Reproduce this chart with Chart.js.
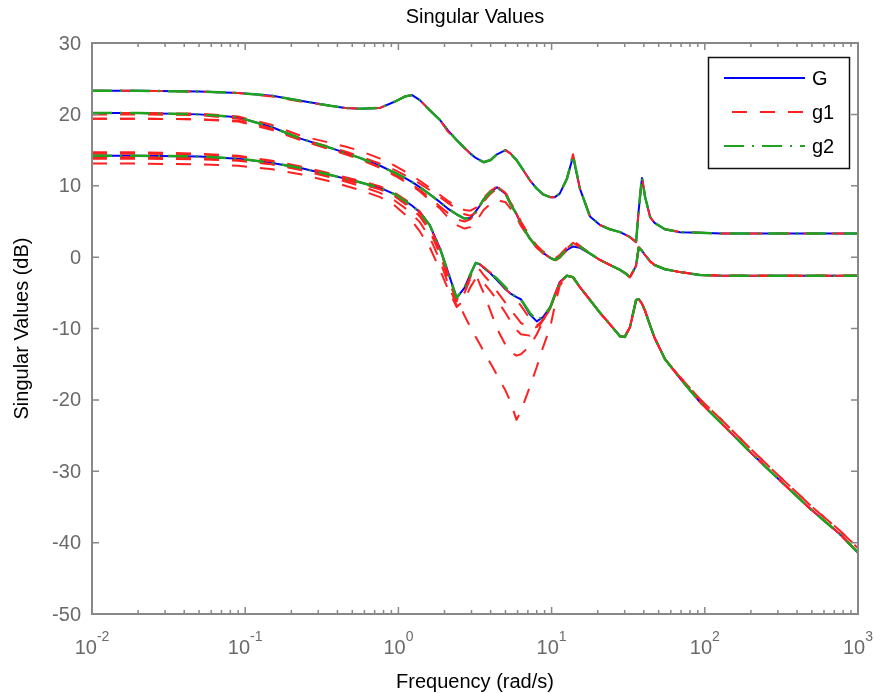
<!DOCTYPE html>
<html>
<head>
<meta charset="UTF-8">
<title>Singular Values</title>
<script src="https://cdn.jsdelivr.net/npm/chart.js"></script>
<style>
  body { margin: 0; background: #fff; }
  canvas { display: block; }
</style>
</head>
<body>
<canvas id="sigmaChart" width="880" height="693"></canvas>
<script>
// frequency grid (rad/s)
const freq = [0.01, 0.02, 0.05, 0.09, 0.15, 0.23, 0.36, 0.45, 0.56, 0.76, 0.95, 1.1, 1.23, 1.38, 1.6, 1.87, 2.1, 2.4, 2.7, 2.95,
  3.2, 3.4, 3.6, 4.0, 4.4, 5.0, 5.4, 5.9, 6.3, 7.2, 8.0, 8.8, 9.8, 10.5, 11.3, 12.6, 13.8, 15.3, 17.8, 20.7,
  24, 28, 30, 32.5, 35.6, 37, 38.9, 40.7, 44, 47, 55, 69, 93, 130, 200, 310, 490, 760, 1000];

// G: the three singular values (dB)
const gSv1 = [23.3, 23.3, 23.2, 23.0, 22.6, 21.9, 21.2, 20.9, 20.8, 20.9, 21.8, 22.5, 22.7, 22.0, 20.6, 19.2, 17.8, 16.4, 15.3, 14.5,
  13.9, 13.6, 13.3, 13.6, 14.4, 15.0, 14.5, 13.6, 12.7, 10.8, 9.6, 8.8, 8.4, 8.4, 8.9, 11.0, 14.1, 9.6, 5.7, 4.5,
  3.9, 3.5, 3.2, 2.8, 2.1, 6.5, 11.1, 8.5, 5.6, 4.8, 3.9, 3.5, 3.4, 3.3, 3.3, 3.3, 3.3, 3.3, 3.3];
const gSv2 = [20.2, 20.2, 20.0, 19.6, 18.2, 16.6, 15.3, 14.6, 13.9, 12.8, 11.8, 11.1, 10.5, 9.8, 8.8, 7.7, 6.8, 6.0, 5.4, 5.5,
  6.4, 7.2, 8.1, 9.1, 9.8, 8.9, 7.4, 6.0, 4.7, 2.6, 1.4, 0.6, -0.1, -0.4, 0.0, 1.0, 1.5, 1.3, 0.5, -0.4,
  -1.1, -1.8, -2.2, -2.8, -1.2, 1.3, 0.9, 0.3, -0.6, -1.1, -1.7, -2.1, -2.5, -2.6, -2.6, -2.6, -2.6, -2.6, -2.6];
const gSv3 = [14.2, 14.2, 14.1, 13.8, 13.2, 12.5, 11.5, 11.0, 10.5, 9.7, 8.8, 7.9, 7.2, 6.3, 4.5, 1.2, -2.0, -5.7, -4.3, -2.4,
  -0.8, -1.0, -1.5, -2.3, -3.2, -4.5, -5.1, -5.6, -5.9, -8.0, -9.0, -8.4, -7.0, -5.3, -3.5, -2.6, -2.8, -4.2, -6.0, -7.8,
  -9.4, -11.1, -11.2, -9.8, -6.0, -5.9, -6.5, -7.5, -9.6, -11.3, -14.3, -17.0, -20.3, -23.4, -27.4, -31.3, -35.3, -38.8, -41.4];

// g2: singular values (dB)
const g2Sv1 = [23.3, 23.3, 23.2, 23.0, 22.6, 21.9, 21.2, 20.9, 20.8, 20.9, 21.8, 22.5, 22.7, 22.0, 20.6, 19.2, 17.8, 16.4, 15.3, 14.5,
  13.9, 13.6, 13.3, 13.6, 14.4, 15.0, 14.5, 13.6, 12.7, 10.8, 9.6, 8.8, 8.4, 8.4, 8.9, 11.0, 14.3, 9.6, 5.7, 4.5,
  3.9, 3.5, 3.2, 2.8, 2.1, 6.5, 11.2, 8.5, 5.6, 4.8, 3.9, 3.5, 3.4, 3.3, 3.3, 3.3, 3.3, 3.3, 3.3];
const g2Sv2 = [20.2, 20.2, 20.0, 19.6, 18.2, 16.6, 15.3, 14.6, 13.9, 12.8, 11.8, 11.1, 10.5, 9.8, 8.8, 7.7, 6.8, 6.0, 5.4, 5.5,
  6.4, 7.2, 8.1, 9.1, 9.8, 8.9, 7.4, 6.0, 4.7, 2.6, 1.4, 0.6, -0.1, -0.4, 0.0, 1.2, 1.9, 1.5, 0.5, -0.4,
  -1.1, -1.8, -2.2, -2.8, -1.2, 1.3, 0.9, 0.3, -0.6, -1.1, -1.7, -2.1, -2.5, -2.6, -2.6, -2.6, -2.6, -2.6, -2.6];
const g2Sv3 = [14.2, 14.2, 14.1, 13.8, 13.2, 12.5, 11.5, 11.0, 10.5, 9.7, 8.8, 7.9, 7.2, 6.3, 4.5, 1.2, -2.0, -5.7, -4.3, -2.4,
  -0.8, -1.0, -1.5, -2.3, -3.0, -4.2, -5.1, -5.6, -5.9, -7.8, -8.8, -8.4, -7.0, -5.3, -3.5, -2.6, -2.8, -4.2, -6.0, -7.8,
  -9.4, -11.1, -11.2, -9.8, -6.0, -5.9, -6.5, -7.5, -9.6, -11.3, -14.3, -17.0, -20.3, -23.4, -27.4, -31.3, -35.3, -38.8, -41.4];

// g1: sampled responses, largest singular value
const g1Top = [23.3, 23.3, 23.2, 23.0, 22.5, 21.8, 21.2, 20.9, 20.8, 20.9, 21.8, 22.5, 22.7, 22.0, 20.6, 19.2, 17.6, 16.4, 15.3, 14.5,
  13.9, 13.6, 13.3, 13.6, 14.4, 15.0, 14.5, 13.6, 12.7, 10.8, 9.6, 8.8, 8.4, 8.4, 8.9, 11.0, 14.4, 9.6, 5.7, 4.5,
  3.9, 3.5, 3.2, 2.8, 2.1, 6.5, 11.4, 8.5, 5.6, 4.8, 3.9, 3.5, 3.4, 3.3, 3.3, 3.3, 3.3, 3.3, 3.3];

// g1: middle singular value of each sample
const g1MidA = [20.2, 20.2, 20.1, 19.7, 18.5, 17.0, 16.0, 15.5, 14.9, 13.8, 12.8, 12.0, 11.4, 10.7, 9.7, 8.7, 7.9, 7.1, 6.6, 6.5,
  6.9, 7.5, 8.3, 9.3, 9.9, 9.1, 7.6, 6.2, 4.9, 2.8, 1.6, 0.8, 0.1, -0.2, 0.3, 1.4, 2.3, 1.6, 0.5, -0.4,
  -1.1, -1.8, -2.2, -2.8, -1.2, 1.4, 1.0, 0.3, -0.6, -1.1, -1.7, -2.1, -2.5, -2.6, -2.6, -2.6, -2.6, -2.6, -2.6];
const g1MidB = [19.4, 19.4, 19.3, 19.0, 17.8, 16.4, 15.1, 14.4, 13.7, 12.5, 11.4, 10.6, 10.0, 9.2, 8.0, 6.8, 5.6, 4.5, 4.0, 4.2,
  5.0, 5.8, 6.6, 7.5, 8.0, 7.7, 6.8, 5.6, 4.4, 2.5, 1.3, 0.5, -0.2, -0.5, -0.1, 1.0, 1.8, 1.4, 0.5, -0.4,
  -1.1, -1.8, -2.2, -2.8, -1.2, 1.3, 0.9, 0.3, -0.6, -1.1, -1.7, -2.1, -2.5, -2.6, -2.6, -2.6, -2.6, -2.6, -2.6];
const g1MidC = [19.4, 19.4, 19.3, 19.1, 18.0, 16.6, 15.4, 14.8, 14.1, 13.1, 12.2, 11.5, 11.0, 10.3, 9.4, 8.4, 7.6, 6.8, 6.0, 5.8,
  6.2, 6.9, 7.8, 8.9, 9.6, 8.8, 7.6, 6.3, 5.0, 2.9, 1.6, 0.7, 0.0, -0.3, 0.2, 1.3, 2.1, 1.5, 0.5, -0.4,
  -1.1, -1.8, -2.2, -2.8, -1.2, 1.3, 0.9, 0.3, -0.6, -1.1, -1.7, -2.1, -2.5, -2.6, -2.6, -2.6, -2.6, -2.6, -2.6];
const g1MidD = [20.0, 20.0, 19.9, 19.4, 18.0, 16.4, 15.1, 14.5, 13.8, 12.6, 11.6, 10.8, 10.2, 9.4, 8.3, 7.1, 6.2, 5.3, 5.0, 5.3,
  6.3, 7.2, 8.1, 9.2, 9.9, 9.0, 7.5, 6.1, 4.8, 2.7, 1.5, 0.6, -0.1, -0.4, 0.1, 1.2, 2.0, 1.4, 0.5, -0.4,
  -1.1, -1.8, -2.2, -2.8, -1.2, 1.3, 0.9, 0.3, -0.6, -1.1, -1.7, -2.1, -2.5, -2.6, -2.6, -2.6, -2.6, -2.6, -2.6];

// g1: smallest singular value of each sample
const g1LowA = [14.7, 14.7, 14.5, 14.2, 13.5, 12.7, 11.7, 11.2, 10.7, 9.9, 9.0, 8.1, 7.4, 6.4, 4.4, 1.0, -2.2, -5.8, -8.2, -9.8,
  -11.2, -12.2, -13.2, -14.9, -16.5, -18.7, -20.3, -22.8, -21.6, -18.2, -15.4, -12.6, -9.8, -6.8, -4.0, -2.7, -2.9, -4.2, -6.0, -7.8,
  -9.4, -11.1, -11.2, -9.8, -6.0, -5.9, -6.5, -7.5, -9.6, -11.3, -14.3, -17.0, -20.3, -23.4, -27.4, -31.3, -35.3, -38.8, -41.4];
const g1LowB = [14.0, 14.0, 13.9, 13.6, 13.0, 12.2, 11.2, 10.6, 10.0, 9.0, 7.9, 6.9, 6.0, 4.9, 2.8, -0.5, -3.6, -6.8, -5.0, -3.0,
  -2.4, -3.8, -5.0, -7.6, -10.0, -12.3, -13.3, -13.8, -13.6, -12.5, -10.8, -9.0, -7.2, -5.4, -3.6, -2.6, -2.8, -4.2, -6.0, -7.8,
  -9.4, -11.1, -11.2, -9.8, -6.0, -5.9, -6.5, -7.5, -9.6, -11.3, -14.3, -16.8, -19.9, -22.9, -26.9, -30.8, -34.8, -38.3, -40.8];
const g1LowC = [13.1, 13.1, 13.0, 12.8, 12.3, 11.6, 10.6, 10.0, 9.4, 8.4, 7.2, 6.0, 5.0, 3.6, 1.4, -1.8, -4.4, -7.0, -6.0, -4.2,
  -3.0, -3.0, -3.6, -4.8, -6.0, -7.8, -9.0, -10.2, -10.8, -11.0, -10.2, -8.8, -7.2, -5.4, -3.6, -2.6, -2.8, -4.2, -6.0, -7.8,
  -9.4, -11.1, -11.2, -9.8, -6.0, -5.9, -6.5, -7.5, -9.6, -11.3, -14.3, -17.0, -20.3, -23.4, -27.4, -31.3, -35.3, -38.8, -41.4];
const g1LowD = [14.5, 14.5, 14.4, 14.1, 13.4, 12.6, 11.6, 11.0, 10.4, 9.5, 8.5, 7.5, 6.7, 5.7, 3.7, 0.4, -2.9, -6.2, -4.8, -2.8,
  -1.5, -1.8, -2.5, -3.6, -4.8, -6.4, -7.4, -8.4, -9.2, -10.0, -9.8, -8.8, -7.2, -5.4, -3.6, -2.6, -2.8, -4.2, -6.0, -7.8,
  -9.4, -11.1, -11.2, -9.8, -6.0, -5.9, -6.5, -7.5, -9.6, -11.3, -14.3, -16.8, -19.9, -22.9, -26.9, -30.8, -34.8, -38.3, -40.8];
const g1LowE = [13.8, 13.8, 13.7, 13.5, 13.0, 12.3, 11.3, 10.8, 10.3, 9.5, 8.6, 7.7, 7.0, 6.1, 4.2, 1.0, -2.3, -6.0, -4.6, -2.7,
  -1.2, -1.0, -1.4, -2.2, -3.1, -4.4, -5.2, -6.0, -6.8, -8.6, -9.6, -8.8, -7.1, -5.3, -3.5, -2.6, -2.8, -4.2, -6.0, -7.8,
  -9.4, -11.1, -11.2, -9.8, -6.0, -5.9, -6.5, -7.5, -9.6, -11.3, -14.3, -17.0, -20.3, -23.4, -27.4, -31.3, -35.3, -38.8, -41.4];

// axis ticks
const yTicks = [30, 20, 10, 0, -10, -20, -30, -40, -50];
const xExponents = [-2, -1, 0, 1, 2, 3];

const FONT = '"Liberation Sans", Arial, Helvetica, sans-serif';
const BLUE = '#0000ff';
const RED = '#ff2020';
const GREEN = '#1fa31f';
const DASH = [15, 13];
const DASHDOT = [20, 8, 2, 8];

// lower order is painted last, so g2 sits on top and G underneath
function series(values, color, dash, width, order) {
  return {
    data: freq.map((f, i) => ({ x: f, y: values[i] })),
    borderColor: color,
    borderDash: dash,
    borderWidth: width,
    order: order,
    pointRadius: 0,
    fill: false,
    tension: 0
  };
}

const datasets = [];
[gSv1, gSv2, gSv3].forEach(v => datasets.push(series(v, BLUE, [], 2, 2)));
[g1Top, g1MidA, g1MidB, g1MidC, g1MidD, g1LowA, g1LowB, g1LowC, g1LowD, g1LowE]
  .forEach(v => datasets.push(series(v, RED, DASH, 2, 1)));
[g2Sv1, g2Sv2, g2Sv3].forEach(v => datasets.push(series(v, GREEN, DASHDOT, 2.5, 0)));

// box, ticks, labels and legend drawn MATLAB style
const axesBox = {
  id: 'axesBox',
  afterDraw(chart) {
    const { ctx, chartArea: a, scales } = chart;
    const xs = scales.x, ys = scales.y;
    ctx.save();

    ctx.strokeStyle = '#888888';
    ctx.lineWidth = 2;
    ctx.strokeRect(a.left, a.top, a.right - a.left, a.bottom - a.top);

    ctx.lineWidth = 1.5;
    ctx.beginPath();
    yTicks.forEach(v => {
      const py = ys.getPixelForValue(v);
      ctx.moveTo(a.left, py); ctx.lineTo(a.left + 7, py);
      ctx.moveTo(a.right, py); ctx.lineTo(a.right - 7, py);
    });
    xExponents.forEach((e, i) => {
      for (let k = 1; k <= 9; k++) {
        if (i === xExponents.length - 1 && k > 1) break;
        const px = xs.getPixelForValue(k * Math.pow(10, e));
        const len = k === 1 ? 7 : 4;
        ctx.moveTo(px, a.bottom); ctx.lineTo(px, a.bottom - len);
        ctx.moveTo(px, a.top); ctx.lineTo(px, a.top + len);
      }
    });
    ctx.stroke();

    // y tick labels
    ctx.fillStyle = '#6a6a6a';
    ctx.font = '20px ' + FONT;
    ctx.textAlign = 'right';
    ctx.textBaseline = 'middle';
    yTicks.forEach(v => ctx.fillText(String(v), a.left - 11, ys.getPixelForValue(v) + 1));

    // x tick labels, 10 with a raised exponent
    ctx.textAlign = 'left';
    ctx.textBaseline = 'alphabetic';
    xExponents.forEach(e => {
      const px = xs.getPixelForValue(Math.pow(10, e));
      ctx.font = '20px ' + FONT;
      const wBase = ctx.measureText('10').width;
      ctx.font = '14px ' + FONT;
      const wExp = ctx.measureText(String(e)).width;
      const x0 = px - (wBase + wExp) / 2;
      ctx.font = '20px ' + FONT;
      ctx.fillText('10', x0, 654);
      ctx.font = '14px ' + FONT;
      ctx.fillText(String(e), x0 + wBase, 641);
    });

    // title and axis labels
    ctx.fillStyle = '#000000';
    ctx.font = '20px ' + FONT;
    ctx.textAlign = 'center';
    ctx.textBaseline = 'middle';
    const cx = (a.left + a.right) / 2;
    ctx.fillText('Singular Values', cx, 17);
    ctx.fillText('Frequency (rad/s)', cx, 682);
    ctx.save();
    ctx.translate(22, (a.top + a.bottom) / 2);
    ctx.rotate(-Math.PI / 2);
    ctx.fillText('Singular Values (dB)', 0, 0);
    ctx.restore();

    // legend
    const lx = 708, ly = 57, lw = 141, lh = 111;
    ctx.fillStyle = '#ffffff';
    ctx.fillRect(lx, ly, lw, lh);
    ctx.strokeStyle = '#111111';
    ctx.lineWidth = 1.5;
    ctx.strokeRect(lx + 0.5, ly + 0.5, lw, lh);
    const entries = [
      { label: 'G', color: BLUE, dash: [], offset: 0, y: 78 },
      { label: 'g1', color: RED, dash: DASH, offset: 20, y: 112 },
      { label: 'g2', color: GREEN, dash: DASHDOT, offset: 0, y: 146 }
    ];
    entries.forEach(en => {
      ctx.strokeStyle = en.color;
      ctx.lineWidth = 2;
      ctx.setLineDash(en.dash);
      ctx.lineDashOffset = en.offset;
      ctx.beginPath();
      ctx.moveTo(724, en.y);
      ctx.lineTo(805, en.y);
      ctx.stroke();
      ctx.setLineDash([]);
      ctx.fillStyle = '#000000';
      ctx.textAlign = 'left';
      ctx.fillText(en.label, 812, en.y + 1);
    });

    ctx.restore();
  }
};

new Chart(document.getElementById('sigmaChart').getContext('2d'), {
  type: 'line',
  data: { datasets: datasets },
  options: {
    responsive: false,
    animation: false,
    layout: { padding: { left: 92, top: 43, right: 22, bottom: 79 } },
    scales: {
      x: { type: 'logarithmic', min: 0.01, max: 1000, display: false },
      y: { type: 'linear', min: -50, max: 30, display: false }
    },
    plugins: {
      legend: { display: false },
      tooltip: { enabled: false }
    },
    elements: { line: { borderJoinStyle: 'round' } }
  },
  plugins: [axesBox]
});
</script>
</body>
</html>
